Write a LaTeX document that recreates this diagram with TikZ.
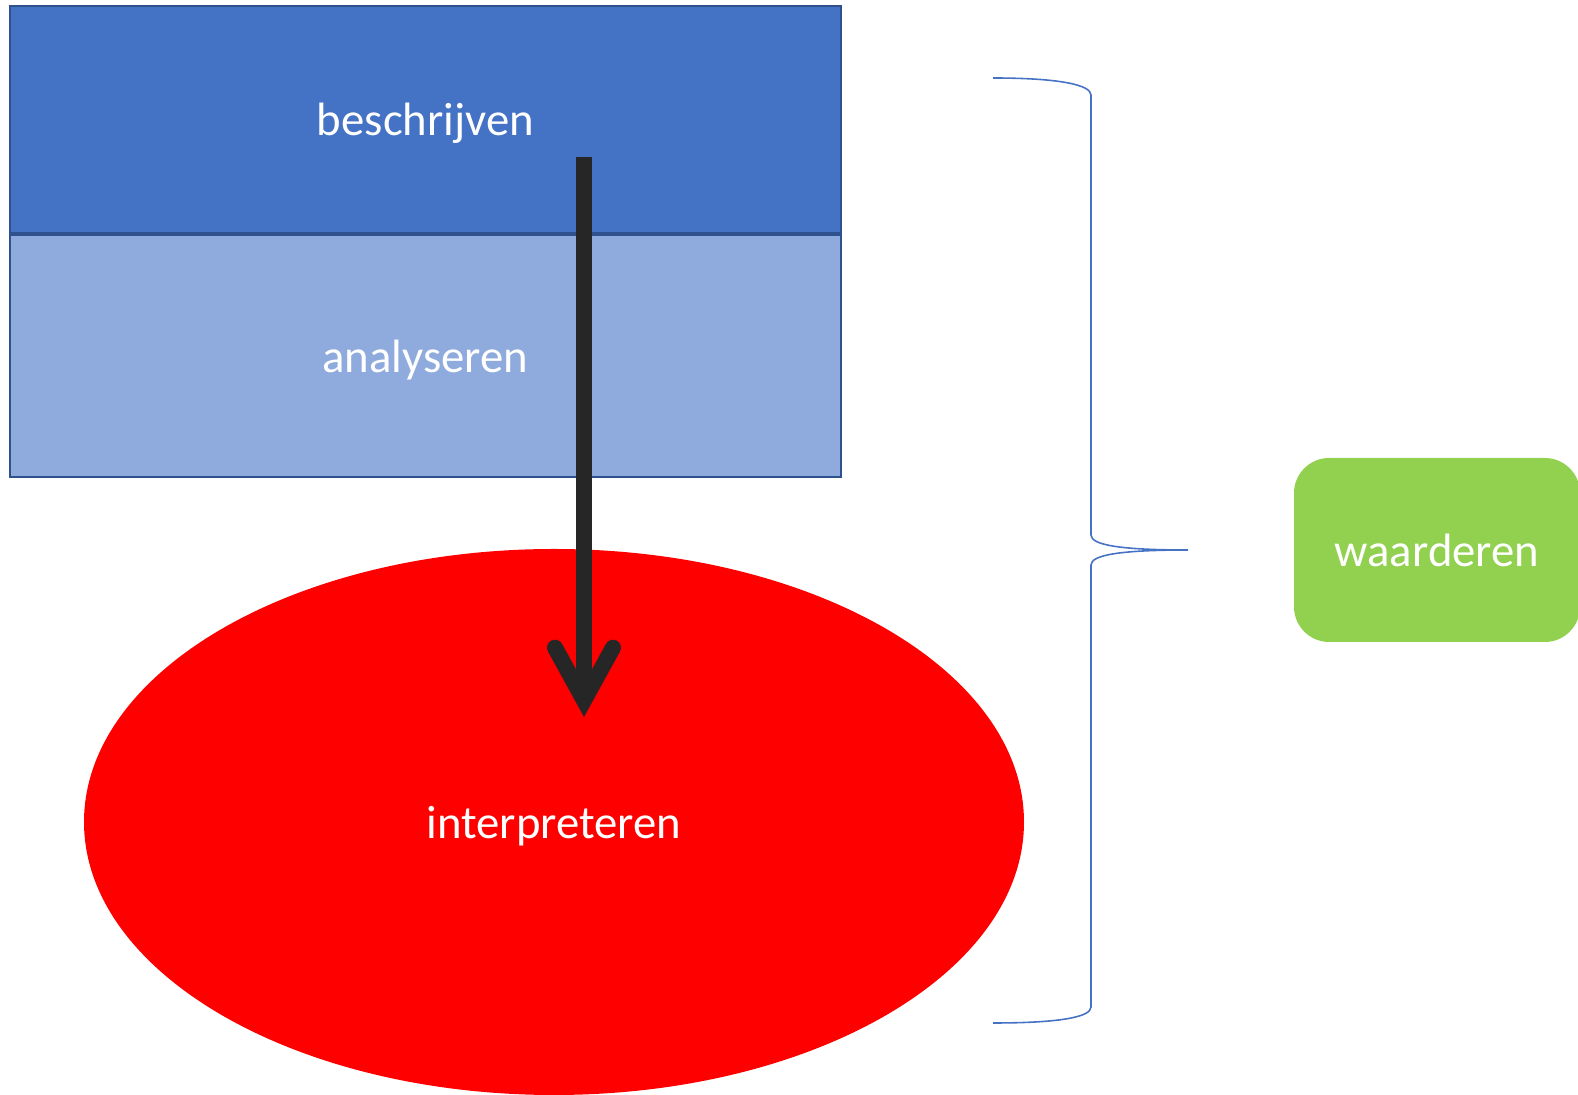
\documentclass[tikz,border=0pt]{standalone}
\usepackage{fontspec}
\setmainfont{Carlito}
\usetikzlibrary{arrows.meta,positioning,shapes.geometric}
\definecolor{darkblue}{HTML}{4472C4}
\definecolor{lightblue}{HTML}{8FAADC}
\definecolor{edgeblue}{HTML}{2F528F}
\definecolor{leafgreen}{HTML}{92D050}
\definecolor{arrowgray}{HTML}{262626}
\begin{document}
\begin{tikzpicture}
[blockdecorate/.style={shape=rectangle,draw=edgeblue,line width=0.6pt,text=white,text depth=0pt,
   minimum width=8.31cm,inner sep=0pt,font=\fontsize{13.3}{16}\selectfont},%
  ovaldecorate/.style={shape=ellipse,fill=red,text=white,inner sep=0pt,text depth=0pt,
   minimum width=9.40cm,minimum height=5.46cm,font=\fontsize{13.3}{16}\selectfont},%
  greendecorate/.style={shape=rectangle,fill=leafgreen,text=white,rounded corners=10pt,
   minimum width=2.86cm,minimum height=1.84cm,font=\fontsize{13.3}{16}\selectfont},%
  bracedecorate/.style={draw=darkblue,line width=0.45pt},%
  arrowdecorate/.style={draw=arrowgray,line width=4.55pt,
   -{Straight Barb[length=15pt,width=16.5pt,line cap=round]}}]
\useasboundingbox (0,0) rectangle (15.78,-10.95);
%% nodes
\node (beschrijven) at (4.255,-1.195) [blockdecorate,fill=darkblue,minimum height=2.27cm] {beschrijven};
\node (analyseren) [blockdecorate,fill=lightblue,minimum height=2.42cm,below=0pt of beschrijven] {analyseren};
\node (interpreteren) at (5.54,-8.22) [ovaldecorate] {interpreteren};
\node (waarderen) at (14.37,-5.50) [greendecorate] {waarderen};
%% arrow
\coordinate (arrowstart) at (5.84,-1.57);
\coordinate (arrowend) at (5.84,-7.17);
\draw[arrowdecorate] (arrowstart) -- (arrowend);
%% brace
\coordinate (bracetop) at (9.93,-0.78);
\coordinate (bracetip) at (11.88,-5.50);
\coordinate (bracebottom) at (9.93,-10.23);
\draw[bracedecorate] (bracetop) .. controls (10.60,-0.78) and (10.91,-0.85) .. (10.91,-0.95)
  -- (10.91,-5.35) .. controls (10.91,-5.45) and (11.20,-5.50) .. (bracetip)
  .. controls (11.20,-5.50) and (10.91,-5.55) .. (10.91,-5.65)
  -- (10.91,-10.07) .. controls (10.91,-10.17) and (10.60,-10.23) .. (bracebottom);
\end{tikzpicture}
\end{document}
